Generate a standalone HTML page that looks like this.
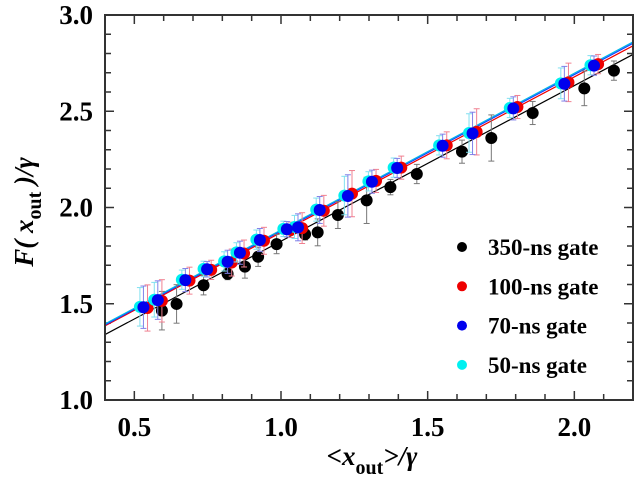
<!DOCTYPE html>
<html><head><meta charset="utf-8">
<style>
html,body{margin:0;padding:0;background:#fff;}
svg{display:block;}
text{font-family:"Liberation Serif",serif;font-weight:bold;}
</style></head>
<body>
<svg id="chart" width="634" height="483" viewBox="0 0 634 483" xmlns="http://www.w3.org/2000/svg">
<g id="grid"></g>
<g id="fits"></g>
<g id="marks"></g>
<rect x="105" y="15" width="528" height="385" fill="none" stroke="#333" stroke-width="2"/>
<text transform="translate(33,212) rotate(-90)" text-anchor="middle" font-size="27" font-style="italic">F( x<tspan font-size="20" font-style="normal" dy="8">out</tspan><tspan dy="-8"> )/γ</tspan></text>
<text x="372" y="465" text-anchor="middle" font-size="27" font-style="italic">&lt;x<tspan font-size="20" font-style="normal" dy="9">out</tspan><tspan dy="-9">&gt;/γ</tspan></text>
<g id="legend"></g>
</svg>
<script>
const xTicks=[0.5,1.0,1.5,2.0];
const yTicks=[1.0,1.5,2.0,2.5,3.0];
const blackX=[0.594,0.644,0.736,0.818,0.877,0.922,0.985,1.082,1.125,1.194,1.292,1.373,1.463,1.617,1.717,1.858,2.034,2.135];
const blackY=[1.464,1.499,1.596,1.655,1.693,1.744,1.810,1.861,1.871,1.961,2.037,2.106,2.174,2.290,2.361,2.491,2.619,2.711];
const blackE=[0.10,0.10,0.05,0.03,0.06,0.05,0.05,0.03,0.07,0.07,0.12,0.04,0.05,0.06,0.12,0.06,0.09,0.05];
const blueX=[0.531,0.580,0.674,0.748,0.818,0.860,0.928,1.020,1.058,1.132,1.228,1.310,1.396,1.551,1.653,1.792,1.966,2.067];
const blueY=[1.482,1.519,1.623,1.679,1.718,1.765,1.831,1.887,1.897,1.987,2.060,2.134,2.205,2.321,2.385,2.515,2.643,2.737];
const blueE=[0.11,0.10,0.06,0.04,0.06,0.06,0.06,0.04,0.07,0.07,0.11,0.06,0.05,0.06,0.11,0.06,0.09,0.05];
const redX=[0.545,0.594,0.688,0.762,0.832,0.874,0.942,1.034,1.072,1.146,1.242,1.324,1.410,1.565,1.667,1.806,1.980,2.081];
const redY=[1.478,1.515,1.620,1.676,1.714,1.761,1.827,1.884,1.893,1.983,2.072,2.138,2.207,2.323,2.393,2.522,2.650,2.745];
const redE=[0.12,0.11,0.07,0.05,0.07,0.07,0.07,0.04,0.08,0.08,0.12,0.06,0.06,0.07,0.12,0.06,0.10,0.05];
const cyanX=[0.519,0.568,0.662,0.736,0.806,0.848,0.916,1.008,1.046,1.120,1.216,1.298,1.384,1.539,1.641,1.780,1.954,2.055];
const cyanY=[1.484,1.521,1.625,1.681,1.720,1.767,1.833,1.889,1.899,1.989,2.062,2.136,2.207,2.323,2.387,2.517,2.645,2.739];
const cyanE=[0.10,0.09,0.05,0.04,0.05,0.05,0.05,0.04,0.06,0.06,0.10,0.05,0.05,0.05,0.10,0.05,0.08,0.05];
const fitBlack=[1.34,2.795];
const fitRed=[1.385,2.84];
const fitBlue=[1.39,2.853];
const fitCyan=[1.395,2.86];
const legendLabels=["350-ns gate","100-ns gate","70-ns gate","50-ns gate"];
const legendColors=["#000","#e00","#0000ee","#00f0f0"];

const X0=0.4,X1=2.2,Y0=1.0,Y1=3.0;
const PL=105,PR=633,PT=15,PB=400;
const sx=v=>PL+(v-X0)/(X1-X0)*(PR-PL);
const sy=v=>PB-(v-Y0)/(Y1-Y0)*(PB-PT);
const NS="http://www.w3.org/2000/svg";
function mk(tag,attrs,parent){const e=document.createElementNS(NS,tag);for(const k in attrs)e.setAttribute(k,attrs[k]);parent.appendChild(e);return e;}
const grid=document.getElementById('grid');
for(let i=0;i<=18;i++){
  const v=X0+i*0.1;const x=sx(v);const major=Math.abs(v*2-Math.round(v*2))<1e-6;const L=major?9:6;
  let t=mk('line',{x1:x,x2:x,y1:PB,y2:PB-L,stroke:'#333','stroke-width':1.5},grid);
  
  let t2=mk('line',{x1:x,x2:x,y1:PT,y2:PT+L,stroke:'#333','stroke-width':1.5},grid);
  
}
for(let i=0;i<=20;i++){
  const v=Y0+i*0.1;const y=sy(v);const major=i%5==0;const L=major?9:6;
  let t=mk('line',{x1:PL,x2:PL+L,y1:y,y2:y,stroke:'#333','stroke-width':1.5},grid);
  
  let t2=mk('line',{x1:PR,x2:PR-L,y1:y,y2:y,stroke:'#333','stroke-width':1.5},grid);
  
}
xTicks.forEach(v=>{const t=mk('text',{x:sx(v),y:PB+36,'text-anchor':'middle','font-size':27},grid);t.textContent=v.toFixed(1);
  });
yTicks.forEach(v=>{const t=mk('text',{x:93,y:sy(v)+9,'text-anchor':'end','font-size':27},grid);t.textContent=v.toFixed(1);
  });
const fits=document.getElementById('fits');
[[fitBlack,'#000'],[fitRed,'#e00'],[fitBlue,'#1a3cff'],[fitCyan,'#00b8e8']].forEach(([f,c])=>{
  const l=mk('line',{x1:sx(X0),y1:sy(f[0]),x2:sx(X1),y2:sy(f[1]),stroke:c,'stroke-width':1.2},fits);
  
});
const marks=document.getElementById('marks');
function series(xs,ys,es,col,ecol,name){
  xs.forEach((xv,i)=>{
    const x=sx(xv),y=sy(ys[i]),t=sy(ys[i]+es[i]),b=sy(ys[i]-es[i]);
    const g=mk('g',{},marks);
    
    mk('line',{x1:x,x2:x,y1:t,y2:b,stroke:ecol,'stroke-width':1},g);
    mk('line',{x1:x-3,x2:x+3,y1:t,y2:t,stroke:ecol,'stroke-width':1},g);
    mk('line',{x1:x-3,x2:x+3,y1:b,y2:b,stroke:ecol,'stroke-width':1},g);
  });
  xs.forEach((xv,i)=>{
    const c=mk('circle',{cx:sx(xv),cy:sy(ys[i]),r:6,fill:col},marks);
    
  });
}
series(blackX,blackY,blackE,'#000','#777','black-350ns');
series(redX,redY,redE,'#e00','#f08090','red-100ns');
series(cyanX,cyanY,cyanE,'#00f0f0','#80e0f0','cyan-50ns');
series(blueX,blueY,blueE,'#0000ee','#8080e8','blue-70ns');
const lg=document.getElementById('legend');
legendLabels.forEach((s,i)=>{
  const y=247+i*39.3;
  const c=mk('circle',{cx:462,cy:y,r:5,fill:legendColors[i]},lg);
  
  const t=mk('text',{x:488,y:y+8,'font-size':23},lg);t.textContent=s;
  
});
</script>
</body></html>
